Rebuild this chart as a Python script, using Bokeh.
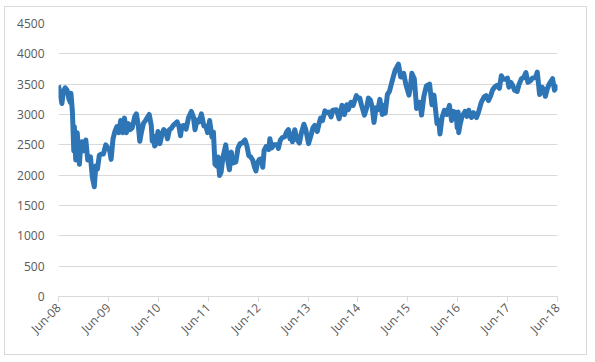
import math
import calendar
from datetime import datetime

from bokeh.plotting import figure
from bokeh.models import Range1d, FixedTicker, ColumnDataSource, InlineStyleSheet
from bokeh.embed import file_html
from bokeh.resources import INLINE

# ---- data (approximate index level) ----
dates = [
    "2008-06-20", "2008-07-01", "2008-07-15", "2008-07-25", "2008-08-08", "2008-08-22",
    "2008-09-05", "2008-09-15", "2008-09-19", "2008-09-30", "2008-10-10", "2008-10-14",
    "2008-10-24", "2008-11-04", "2008-11-20", "2008-11-28", "2008-12-08", "2008-12-19",
    "2009-01-06", "2009-01-20", "2009-02-09", "2009-02-23", "2009-03-09", "2009-03-20",
    "2009-04-01", "2009-04-15", "2009-05-01", "2009-05-15", "2009-06-01", "2009-06-15",
    "2009-06-30", "2009-07-10", "2009-07-24", "2009-08-07", "2009-08-21", "2009-09-04",
    "2009-09-18", "2009-10-02", "2009-10-16", "2009-10-30", "2009-11-13", "2009-11-27",
    "2009-12-11", "2009-12-31", "2010-01-11", "2010-01-25", "2010-02-05", "2010-02-19",
    "2010-03-05", "2010-03-19", "2010-04-01", "2010-04-15", "2010-04-30", "2010-05-07",
    "2010-05-14", "2010-05-25", "2010-06-07", "2010-06-18", "2010-07-02", "2010-07-16",
    "2010-07-30", "2010-08-13", "2010-08-27", "2010-09-10", "2010-09-24", "2010-10-08",
    "2010-10-22", "2010-11-05", "2010-11-19", "2010-11-30", "2010-12-10", "2010-12-24",
    "2011-01-10", "2011-01-28", "2011-02-17", "2011-03-04", "2011-03-16", "2011-03-31",
    "2011-04-15", "2011-05-02", "2011-05-20", "2011-06-03", "2011-06-16", "2011-07-01",
    "2011-07-18", "2011-07-29", "2011-08-09", "2011-08-22", "2011-09-01", "2011-09-12",
    "2011-09-23", "2011-10-07", "2011-10-27", "2011-11-09", "2011-11-23", "2011-12-07",
    "2011-12-16", "2012-01-09", "2012-01-25", "2012-02-09", "2012-02-24", "2012-03-16",
    "2012-03-30", "2012-04-13", "2012-04-27", "2012-05-11", "2012-05-25", "2012-06-04",
    "2012-06-15", "2012-06-29", "2012-07-13", "2012-07-24", "2012-08-03", "2012-08-17",
    "2012-09-05", "2012-09-14", "2012-09-28", "2012-10-12", "2012-10-26", "2012-11-09",
    "2012-11-15", "2012-11-30", "2012-12-14", "2012-12-31", "2013-01-14", "2013-01-28",
    "2013-02-08", "2013-02-19", "2013-02-26", "2013-03-15", "2013-03-28", "2013-04-05",
    "2013-04-18", "2013-05-03", "2013-05-21", "2013-06-04", "2013-06-24", "2013-07-10",
    "2013-07-26", "2013-08-09", "2013-08-27", "2013-09-10", "2013-09-20", "2013-10-04",
    "2013-10-22", "2013-11-07", "2013-11-22", "2013-12-06", "2013-12-19", "2014-01-14",
    "2014-02-03", "2014-02-24", "2014-03-14", "2014-03-31", "2014-04-11", "2014-04-30",
    "2014-05-16", "2014-06-09", "2014-06-20", "2014-07-04", "2014-07-17", "2014-08-07",
    "2014-08-22", "2014-09-05", "2014-09-19", "2014-10-03", "2014-10-16", "2014-10-31",
    "2014-11-14", "2014-11-28", "2014-12-16", "2014-12-29", "2015-01-06", "2015-01-22",
    "2015-02-06", "2015-02-20", "2015-03-06", "2015-03-20", "2015-04-13", "2015-04-29",
    "2015-05-08", "2015-05-21", "2015-06-08", "2015-06-29", "2015-07-10", "2015-07-20",
    "2015-08-07", "2015-08-24", "2015-09-04", "2015-09-18", "2015-09-29", "2015-10-16",
    "2015-11-03", "2015-11-27", "2015-12-14", "2015-12-29", "2016-01-11", "2016-01-20",
    "2016-02-02", "2016-02-11", "2016-02-26", "2016-03-14", "2016-03-31", "2016-04-20",
    "2016-05-06", "2016-05-20", "2016-06-08", "2016-06-16", "2016-06-23", "2016-06-27",
    "2016-07-08", "2016-07-22", "2016-08-12", "2016-08-26", "2016-09-08", "2016-09-29",
    "2016-10-14", "2016-11-04", "2016-11-18", "2016-12-09", "2016-12-30", "2017-01-13",
    "2017-01-31", "2017-02-16", "2017-03-01", "2017-03-16", "2017-04-03", "2017-04-21",
    "2017-05-05", "2017-05-19", "2017-06-02", "2017-06-19", "2017-06-29", "2017-07-13",
    "2017-07-27", "2017-08-10", "2017-08-29", "2017-09-12", "2017-09-29", "2017-10-16",
    "2017-11-01", "2017-11-15", "2017-12-01", "2017-12-19", "2018-01-10", "2018-01-23",
    "2018-02-09", "2018-02-26", "2018-03-09", "2018-03-23", "2018-04-06", "2018-04-20",
    "2018-05-04", "2018-05-15", "2018-05-29", "2018-06-08", "2018-06-20",
]

values = [
    3480, 3330, 3180, 3380, 3440, 3400,
    3250, 3200, 3350, 3040, 2400, 2800,
    2250, 2700, 2180, 2450, 2550, 2400,
    2580, 2250, 2300, 1960, 1810, 2150,
    2100, 2330, 2350, 2350, 2500, 2450,
    2400, 2260, 2600, 2720, 2800, 2700,
    2900, 2700, 2940, 2700, 2850, 2750,
    2780, 2970, 3010, 2820, 2560, 2730,
    2860, 2900, 2950, 3000, 2820, 2560,
    2650, 2480, 2530, 2720, 2520, 2660,
    2750, 2720, 2600, 2750, 2770, 2820,
    2850, 2880, 2800, 2650, 2810, 2820,
    2760, 2950, 3050, 2960, 2750, 2910,
    2880, 3010, 2810, 2810, 2700, 2900,
    2630, 2710, 2180, 2150, 2300, 1995,
    2050, 2300, 2500, 2260, 2090, 2380,
    2200, 2220, 2450, 2520, 2530, 2580,
    2480, 2320, 2300, 2250, 2130, 2070,
    2200, 2260, 2270, 2130, 2410, 2470,
    2420, 2600, 2450, 2500, 2500, 2500,
    2440, 2580, 2620, 2630, 2710, 2750,
    2600, 2680, 2550, 2750, 2620, 2570,
    2530, 2700, 2840, 2750, 2520, 2640,
    2780, 2820, 2720, 2860, 2940, 2900,
    3060, 3030, 3040, 2960, 3070, 3080,
    2930, 3150, 3000, 3160, 3080, 3200,
    3150, 3310, 3270, 3270, 3150, 2990,
    3100, 3270, 3240, 3120, 2870, 3110,
    3080, 3250, 3000, 3150, 3020, 3330,
    3380, 3500, 3620, 3730, 3830, 3620,
    3620, 3680, 3480, 3320, 3460, 3680,
    3590, 3100, 3200, 3200, 2990, 3300,
    3470, 3500, 3160, 3320, 3050, 2850,
    2900, 2680, 2950, 3070, 3000, 3150,
    2900, 3050, 3030, 2780, 3040, 2700,
    2850, 2970, 3050, 2970, 3070, 2950,
    3030, 2950, 3030, 3200, 3290, 3310,
    3230, 3310, 3400, 3450, 3480, 3430,
    3640, 3580, 3580, 3600, 3450, 3530,
    3480, 3400, 3380, 3500, 3590, 3610,
    3690, 3530, 3550, 3600, 3610, 3700,
    3330, 3450, 3420, 3300, 3420, 3500,
    3550, 3590, 3400, 3460, 3400,
]

x_tick_dates = [
    "2008-06-20", "2009-06-20", "2010-06-20", "2011-06-20", "2012-06-20", "2013-06-20",
    "2014-06-20", "2015-06-20", "2016-06-20", "2017-06-20", "2018-06-20",
]
x_tick_labels = [
    "Jun-08", "Jun-09", "Jun-10", "Jun-11", "Jun-12", "Jun-13",
    "Jun-14", "Jun-15", "Jun-16", "Jun-17", "Jun-18",
]
y_ticks = [0, 500, 1000, 1500, 2000, 2500, 3000, 3500, 4000, 4500]


def to_ms(s):
    return calendar.timegm(datetime.strptime(s, "%Y-%m-%d").timetuple()) * 1000


xs = [to_ms(d) for d in dates]
tick_ms = [to_ms(d) for d in x_tick_dates]

source = ColumnDataSource(data=dict(x=xs, y=values))

FONT = "Open Sans"
TXT = "#595959"
GRID = "#d9d9d9"

p = figure(
    width=583, height=349,
    x_axis_type="datetime",
    x_range=Range1d(tick_ms[0], tick_ms[-1]),
    y_range=Range1d(0, 4500),
    output_backend="svg",
    toolbar_location=None,
    min_border_left=54, min_border_right=30,
    min_border_top=17, min_border_bottom=59,
)
p.styles = {"margin-left": "4px", "margin-top": "6px"}
p.stylesheets = [InlineStyleSheet(
    css=":host { background: white; box-shadow: inset 0 0 0 1px #d9d9d9; }")]
p.outline_line_color = None
p.background_fill_color = None
p.border_fill_color = None

p.line("x", "y", source=source, line_width=5, line_color="#2E75B6", line_join="round")

# x axis
xa = p.xaxis[0]
xa.ticker = FixedTicker(ticks=tick_ms)
xa.major_label_overrides = {t: lab for t, lab in zip(tick_ms, x_tick_labels)}
xa.major_label_orientation = math.pi / 4
xa.axis_line_color = GRID
xa.major_tick_line_color = GRID
xa.major_tick_in = 0
xa.major_tick_out = 5
xa.minor_tick_line_color = None
xa.major_label_text_font = FONT
xa.major_label_text_font_size = "12px"
xa.major_label_text_color = TXT
xa.major_label_standoff = 4
p.xgrid.grid_line_color = None

# y axis
ya = p.yaxis[0]
ya.ticker = FixedTicker(ticks=y_ticks)
ya.axis_line_color = None
ya.major_tick_line_color = None
ya.minor_tick_line_color = None
ya.major_tick_in = 0
ya.major_tick_out = 0
ya.major_label_standoff = 14
ya.major_label_text_font = FONT
ya.major_label_text_font_size = "12px"
ya.major_label_text_color = TXT
p.ygrid.grid_line_color = GRID
p.ygrid.grid_line_width = 1
p.ygrid.ticker = FixedTicker(ticks=y_ticks)

open("out.html", "w").write(file_html(p, INLINE))
